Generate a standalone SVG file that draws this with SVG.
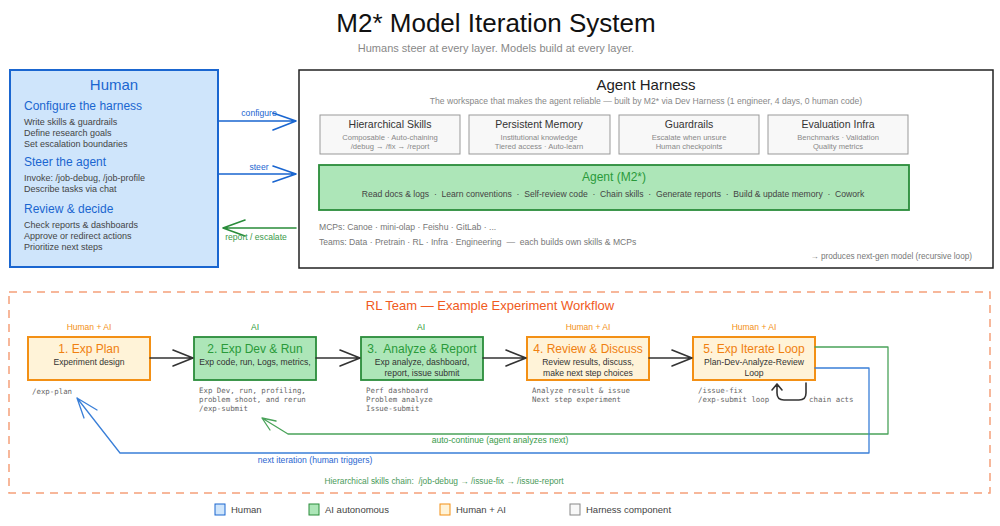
<svg xmlns="http://www.w3.org/2000/svg" width="1000" height="526" viewBox="0 0 1000 526">
<defs>
<style>
text{font-family:"Liberation Sans",Arial,sans-serif}
.mono{font-family:"DejaVu Sans Mono","Liberation Mono",monospace;font-size:7.4px;fill:#666}
.hbox{fill:#cfe5fb;stroke:#1a66d0;stroke-width:2}
.gbox{fill:#ade6b8;stroke:#2a8c3a;stroke-width:1.8}
.obox{fill:#fff3d8;stroke:#f39015;stroke-width:2}
.cbox{fill:#f8f8f8;stroke:#999;stroke-width:1}
.hhead{fill:#1a66d0;font-size:12px}
.hline{fill:#444;font-size:9px}
.ctitle{fill:#333;font-size:10.5px;text-anchor:middle}
.csub{fill:#888;font-size:7.6px;text-anchor:middle}
.wtitle{font-size:12px;text-anchor:middle}
.wsub{fill:#333;font-size:8.6px;text-anchor:middle}
.role{font-size:8.5px;text-anchor:middle}
.ln{fill:none;stroke-linecap:round;stroke-linejoin:round}
</style>
</defs>
<rect width="1000" height="526" fill="#ffffff"/>
<text x="496" y="32" text-anchor="middle" font-size="26" fill="#111">M2* Model Iteration System</text>
<text x="496" y="52" text-anchor="middle" font-size="11" fill="#888">Humans steer at every layer. Models build at every layer.</text>

<g id="human">
<rect class="hbox" x="10" y="70" width="208" height="197"/>
<text x="114" y="90" text-anchor="middle" font-size="15" fill="#1a66d0">Human</text>
<text class="hhead" x="24" y="110">Configure the harness</text>
<text class="hline" x="24" y="125">Write skills &amp; guardrails</text>
<text class="hline" x="24" y="136">Define research goals</text>
<text class="hline" x="24" y="147">Set escalation boundaries</text>
<text class="hhead" x="24" y="166">Steer the agent</text>
<text class="hline" x="24" y="181">Invoke: /job-debug, /job-profile</text>
<text class="hline" x="24" y="192">Describe tasks via chat</text>
<text class="hhead" x="24" y="213">Review &amp; decide</text>
<text class="hline" x="24" y="228">Check reports &amp; dashboards</text>
<text class="hline" x="24" y="239">Approve or redirect actions</text>
<text class="hline" x="24" y="250">Prioritize next steps</text>
</g>

<g id="harness">
<rect x="299" y="70" width="694" height="198" fill="#fff" stroke="#222" stroke-width="1.5"/>
<text x="646" y="90" text-anchor="middle" font-size="15" fill="#222">Agent Harness</text>
<text x="646" y="104" text-anchor="middle" font-size="8.6" fill="#888">The workspace that makes the agent reliable — built by M2* via Dev Harness (1 engineer, 4 days, 0 human code)</text>
<text x="319" y="230" font-size="8.6" fill="#777">MCPs: Canoe · mini-olap · Feishu · GitLab · ...</text>
<text x="319" y="245" font-size="8.6" fill="#777" xml:space="preserve">Teams: Data · Pretrain · RL · Infra · Engineering  —  each builds own skills &amp; MCPs</text>
<text x="972" y="259" text-anchor="end" font-size="8.2" fill="#777">→ produces next-gen model (recursive loop)</text>
</g>
<g id="skills">
<rect class="cbox" x="320" y="115" width="140" height="39"/>
<text class="ctitle" x="390" y="128">Hierarchical Skills</text>
<text class="csub" x="390" y="140">Composable · Auto-chaining</text>
<text class="csub" x="390" y="149">/debug → /fix → /report</text>
</g>
<g id="memory">
<rect class="cbox" x="469" y="115" width="141" height="39"/>
<text class="ctitle" x="539" y="128">Persistent Memory</text>
<text class="csub" x="539" y="140">Institutional knowledge</text>
<text class="csub" x="539" y="149">Tiered access · Auto-learn</text>
</g>
<g id="guardrails">
<rect class="cbox" x="619" y="115" width="140" height="39"/>
<text class="ctitle" x="689" y="128">Guardrails</text>
<text class="csub" x="689" y="140">Escalate when unsure</text>
<text class="csub" x="689" y="149">Human checkpoints</text>
</g>
<g id="evalinfra">
<rect class="cbox" x="768" y="115" width="140" height="39"/>
<text class="ctitle" x="838" y="128">Evaluation Infra</text>
<text class="csub" x="838" y="140">Benchmarks · Validation</text>
<text class="csub" x="838" y="149">Quality metrics</text>
</g>
<g id="agent">
<rect class="gbox" x="319" y="165" width="590" height="45"/>
<text x="614" y="181" text-anchor="middle" font-size="12" fill="#2a9a3a">Agent (M2*)</text>
<text x="613" y="197" text-anchor="middle" font-size="8.6" fill="#444" xml:space="preserve">Read docs &amp; logs  ·  Learn conventions  ·  Self-review code  ·  Chain skills  ·  Generate reports  ·  Build &amp; update memory  ·  Cowork</text>
</g>

<g id="workflow">
<rect x="9" y="292" width="981" height="201" fill="none" stroke="#f5a07a" stroke-width="1.5" stroke-dasharray="8 6"/>
<text x="490" y="310" text-anchor="middle" font-size="13" fill="#f05a22">RL Team — Example Experiment Workflow</text>
<text x="444" y="484" text-anchor="middle" font-size="8.4" fill="#4a9a5a" xml:space="preserve">Hierarchical skills chain:  /job-debug → /issue-fix → /issue-report</text>
</g>

<g id="step1">
<text class="role" x="89" y="330" fill="#f39015">Human + AI</text>
<rect class="obox" x="28" y="337" width="122" height="43"/>
<text class="wtitle" x="89" y="353" fill="#f08010">1. Exp Plan</text>
<text class="wsub" x="89" y="365">Experiment design</text>
<text class="mono" x="32" y="394">/exp-plan</text>
</g>
<g id="step2">
<text class="role" x="255" y="330" fill="#2a9a3a">AI</text>
<rect class="gbox" x="194" y="337" width="122" height="43"/>
<text class="wtitle" x="255" y="353" fill="#2a9a3a">2. Exp Dev &amp; Run</text>
<text class="wsub" x="255" y="365">Exp code, run, Logs, metrics,</text>
<text class="mono" x="199" y="393">Exp Dev, run, profiling,</text>
<text class="mono" x="199" y="402">problem shoot, and rerun</text>
<text class="mono" x="199" y="411">/exp-submit</text>
</g>
<g id="step3">
<text class="role" x="421" y="330" fill="#2a9a3a">AI</text>
<rect class="gbox" x="361" y="337" width="122" height="43"/>
<text class="wtitle" x="422" y="353" fill="#2a9a3a" xml:space="preserve">3.  Analyze &amp; Report</text>
<text class="wsub" x="422" y="365">Exp analyze, dashboard,</text>
<text class="wsub" x="422" y="376">report, issue submit</text>
<text class="mono" x="366" y="393">Perf dashboard</text>
<text class="mono" x="366" y="402">Problem analyze</text>
<text class="mono" x="366" y="411">Issue-submit</text>
</g>
<g id="step4">
<text class="role" x="588" y="330" fill="#f39015">Human + AI</text>
<rect class="obox" x="527" y="337" width="122" height="43"/>
<text class="wtitle" x="588" y="353" fill="#f08010">4. Review &amp; Discuss</text>
<text class="wsub" x="588" y="365">Review results, discuss,</text>
<text class="wsub" x="588" y="376">make next step choices</text>
<text class="mono" x="532" y="393">Analyze result &amp; issue</text>
<text class="mono" x="532" y="402">Next step experiment</text>
</g>
<g id="step5">
<text class="role" x="754" y="330" fill="#f39015">Human + AI</text>
<rect class="obox" x="693" y="337" width="122" height="43"/>
<text class="wtitle" x="754" y="353" fill="#f08010">5. Exp Iterate Loop</text>
<text class="wsub" x="754" y="365">Plan-Dev-Analyze-Review</text>
<text class="wsub" x="754" y="376">Loop</text>
<text class="mono" x="698" y="393">/issue-fix</text>
<text class="mono" x="698" y="402">/exp-submit loop</text>
<text class="mono" x="809" y="402">chain acts</text>
</g>

<g id="connectors">
<path class="ln" d="M218 121 H296 M273 113 L296 121 L273 130" stroke="#1a66d0" stroke-width="1.6"/>
<text x="259" y="116" text-anchor="middle" font-size="8.6" fill="#1a66d0">configure</text>
<path class="ln" d="M218 174 H296 M273 166 L296 174 L273 182" stroke="#1a66d0" stroke-width="1.6"/>
<text x="259" y="170" text-anchor="middle" font-size="8.6" fill="#1a66d0">steer</text>
<path class="ln" d="M296 228 H223 M245 220 L223 228 L245 236" stroke="#2a8c3a" stroke-width="1.6"/>
<text x="256" y="240" text-anchor="middle" font-size="8.6" fill="#3a9a4a">report / escalate</text>

<path class="ln" d="M150 358 H193 M173 350 L193 358 L173 366" stroke="#333" stroke-width="1.6"/>
<path class="ln" d="M316 358 H360 M340 350 L360 358 L340 366" stroke="#333" stroke-width="1.6"/>
<path class="ln" d="M483 358 H526 M506 350 L526 358 L506 366" stroke="#333" stroke-width="1.6"/>
<path class="ln" d="M649 358 H692 M672 350 L692 358 L672 366" stroke="#333" stroke-width="1.6"/>

<path class="ln" d="M815 347 H888 V434 H288 L262 418 M262 418 L276 421 M262 418 L270 430" stroke="#4aa35a" stroke-width="1.3"/>
<text x="500" y="443" text-anchor="middle" font-size="8.6" fill="#3a9a4a">auto-continue (agent analyzes next)</text>
<path class="ln" d="M815 368 H869 V453 H120 L77 398 M77 398 L97 410 M77 398 L84 418" stroke="#3a7fd8" stroke-width="1.3"/>
<text x="315" y="463" text-anchor="middle" font-size="8.6" fill="#2a66d0">next iteration (human triggers)</text>

<path class="ln" d="M806 383 V393 Q806 400 799 400 H784 Q777 400 777 393 V384 M772 390 L777 384 L782 390" stroke="#333" stroke-width="1.6"/>
</g>

<g id="legend">
<rect x="215" y="504" width="10" height="11" fill="#cfe5fb" stroke="#1a66d0" stroke-width="1"/>
<text x="231" y="513" font-size="9.5" fill="#444">Human</text>
<rect x="309" y="504" width="10" height="11" fill="#ade6b8" stroke="#2a8c3a" stroke-width="1"/>
<text x="325" y="513" font-size="9.5" fill="#444">AI autonomous</text>
<rect x="440" y="504" width="10" height="11" fill="#fff3d8" stroke="#f39015" stroke-width="1"/>
<text x="456" y="513" font-size="9.5" fill="#444">Human + AI</text>
<rect x="570" y="504" width="10" height="11" fill="#f8f8f8" stroke="#888" stroke-width="1"/>
<text x="586" y="513" font-size="9.5" fill="#444">Harness component</text>
</g>
</svg>
